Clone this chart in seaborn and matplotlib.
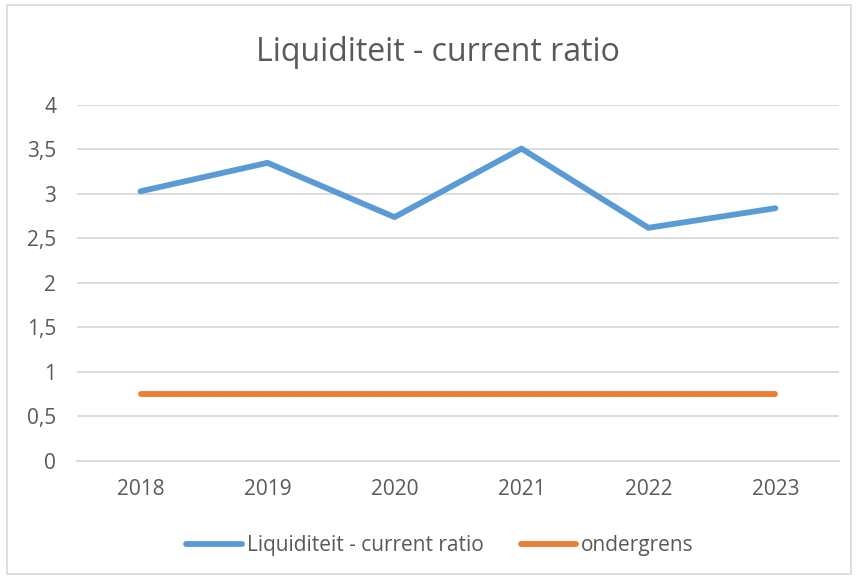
import matplotlib
matplotlib.use("Agg")
import matplotlib.pyplot as plt
import seaborn as sns
import pandas as pd
from matplotlib.patches import Rectangle
from matplotlib.lines import Line2D

years = ["2018", "2019", "2020", "2021", "2022", "2023"]
current_ratio = [3.03, 3.35, 2.74, 3.51, 2.62, 2.84]
ondergrens = [0.75, 0.75, 0.75, 0.75, 0.75, 0.75]
series_names = ["Liquiditeit - current ratio", "ondergrens"]
yticks = [0, 0.5, 1, 1.5, 2, 2.5, 3, 3.5, 4]
ytick_labels = ["0", "0,5", "1", "1,5", "2", "2,5", "3", "3,5", "4"]

df = pd.DataFrame({
    "jaar": years * 2,
    "waarde": current_ratio + ondergrens,
    "reeks": [series_names[0]] * len(years) + [series_names[1]] * len(years),
})

sns.set_style("white")
plt.rcParams["font.family"] = ["Open Sans", "DejaVu Sans"]

fig = plt.figure(figsize=(8.56, 5.79), dpi=100)
ax = fig.add_axes([0.09, 0.2038, 0.890, 0.6149])

sns.lineplot(data=df, x="jaar", y="waarde", hue="reeks",
             palette=["#5B9BD5", "#ED7D31"], linewidth=4.2, ax=ax,
             legend=False, solid_capstyle="round")

ax.set_xlim(-0.5, len(years) - 0.5)
ax.set_ylim(0, 4)
ax.set_yticks(yticks)
ax.set_yticklabels(ytick_labels)
ax.set_xlabel("")
ax.set_ylabel("")
ax.grid(axis="y", color="#D9D9D9", linewidth=1.3)
ax.set_axisbelow(True)
for s in ["top", "right", "left"]:
    ax.spines[s].set_visible(False)
ax.spines["bottom"].set_color("#D9D9D9")
ax.spines["bottom"].set_linewidth(1.3)
ax.tick_params(axis="both", length=0, labelsize=15, labelcolor="#595959")
ax.tick_params(axis="x", pad=13)
ax.tick_params(axis="y", pad=15)

fig.text(0.512, 0.909, "Liquiditeit - current ratio", ha="center", va="center",
         fontsize=23, color="#595959")

handles = [Line2D([0], [0], color="#5B9BD5", lw=4.2, solid_capstyle="round"),
           Line2D([0], [0], color="#ED7D31", lw=4.2, solid_capstyle="round")]
leg = fig.legend(handles, series_names, loc="center", bbox_to_anchor=(0.514, 0.057),
                 ncol=2, frameon=False, fontsize=15, handlelength=2.65,
                 handletextpad=0.24, columnspacing=1.8)
for t in leg.get_texts():
    t.set_color("#595959")

fig.patches.append(Rectangle((0.008, 0.008), 0.986, 0.983, transform=fig.transFigure,
                             fill=False, edgecolor="#D9D9D9", linewidth=1.2))

fig.savefig("out.png", dpi=100, facecolor="white")
